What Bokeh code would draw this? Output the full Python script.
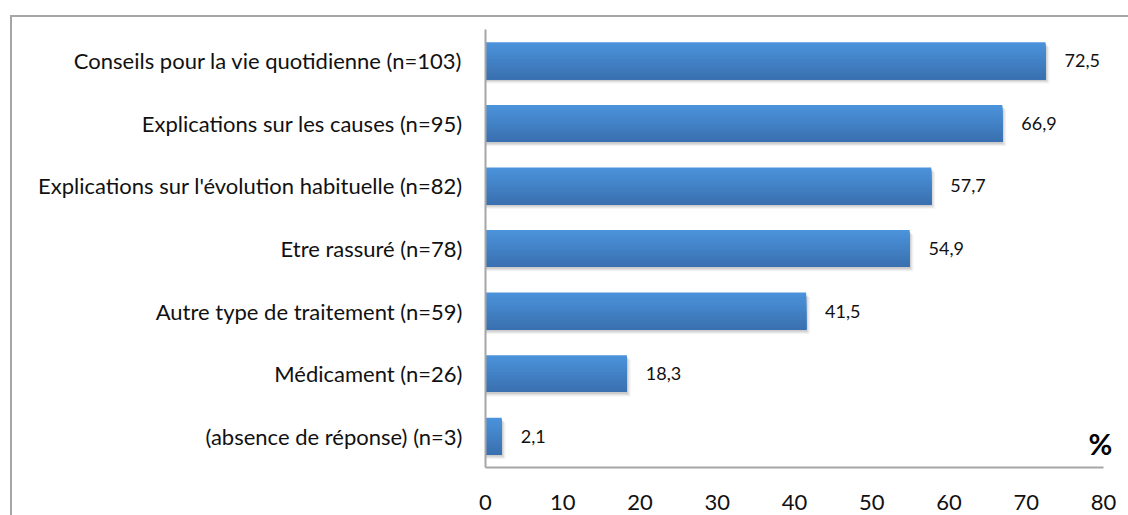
import numpy as np
from bokeh.plotting import figure
from bokeh.models import ColumnDataSource, Range1d, FixedTicker, Label
from bokeh.core.properties import value
from bokeh.embed import file_html
from bokeh.resources import INLINE

# Survey answers, listed top to bottom, with the share of respondents (%)
categories = [
    "Conseils pour la vie quotidienne (n=103)",
    "Explications sur les causes (n=95)",
    "Explications sur l'évolution habituelle (n=82)",
    "Etre rassuré (n=78)",
    "Autre type de traitement (n=59)",
    "Médicament (n=26)",
    "(absence de réponse) (n=3)",
]
percentages = [72.5, 66.9, 57.7, 54.9, 41.5, 18.3, 2.1]
x_ticks = [0, 10, 20, 30, 40, 50, 60, 70, 80]

FONT = "Lato"
BAR_H = 0.59
TOP_COLOR = np.array([0x4B, 0x93, 0xDB])
BOTTOM_COLOR = np.array([0x3A, 0x70, 0xB0])
N_STRIPS = 24

n = len(categories)
ypos = [n - 1 - i for i in range(n)]

# the frame runs a little past 80 so the "%" marker has room; the axis
# line itself stops at 80 through its bounds
p = figure(
    width=1116, height=498,
    frame_width=629, frame_height=438,
    min_border_left=473, min_border_right=14,
    min_border_top=12, min_border_bottom=48,
    x_range=Range1d(0, 81.42), y_range=Range1d(-0.5, n - 0.5),
    output_backend="svg", toolbar_location=None,
)
p.margin = (15, 0, 0, 10)
p.styles = {"border-top": "2px solid #a6a6a6", "border-left": "2px solid #a6a6a6"}
p.outline_line_color = None
p.grid.visible = False
p.background_fill_color = "white"
p.border_fill_color = "white"

# soft drop shadow under each bar
for dx, dy, a in [(0.5, 0.07, 0.05), (0.3, 0.05, 0.07), (0.15, 0.03, 0.09)]:
    p.hbar(y=[y - dy for y in ypos], left=0, right=[v + dx for v in percentages],
           height=BAR_H, fill_color="#000000", fill_alpha=a, line_color=None)

# vertical gradient: each layer runs from its own top edge down to the bar's
# bottom, so successive layers overlap and no seams show
bar_bottom = [y - BAR_H / 2 for y in ypos]
for s in range(N_STRIPS):
    t = s / (N_STRIPS - 1)
    c = (TOP_COLOR * (1 - t) + BOTTOM_COLOR * t).round().astype(int)
    color = "#%02x%02x%02x" % tuple(c)
    top_off = BAR_H / 2 - BAR_H * s / N_STRIPS
    p.quad(left=0, right=percentages, bottom=bar_bottom,
           top=[y + top_off for y in ypos], fill_color=color, line_color=None)

# value labels
labels_src = ColumnDataSource(dict(
    x=percentages, y=ypos,
    txt=[f"{v:.1f}".replace(".", ",") for v in percentages],
))
p.text(x="x", y="y", text="txt", source=labels_src, x_offset=19,
       text_baseline="middle", text_align="left",
       text_font=value(FONT), text_font_size="18px", text_color="#111111")

# axes
xa = p.xaxis[0]
xa.ticker = FixedTicker(ticks=x_ticks)
xa.bounds = (x_ticks[0], x_ticks[-1])
xa.major_tick_line_color = None
xa.minor_tick_line_color = None
xa.axis_line_color = "#a6a6a6"
xa.axis_line_width = 2
xa.major_label_text_font = FONT
xa.major_label_text_font_size = "22px"
xa.major_label_text_color = "#111111"
xa.major_label_standoff = 21

ya = p.yaxis[0]
ya.ticker = FixedTicker(ticks=ypos)
ya.major_label_overrides = {y: c for y, c in zip(ypos, categories)}
ya.major_tick_line_color = None
ya.minor_tick_line_color = None
ya.axis_line_color = "#a6a6a6"
ya.axis_line_width = 2
ya.major_label_text_font = FONT
ya.major_label_text_font_size = "22px"
ya.major_label_text_color = "#111111"
ya.major_label_standoff = 17

p.add_layout(Label(x=79.6, y=-0.12, text="%", text_align="center",
                   text_baseline="middle", text_font=FONT,
                   text_font_size="29px", text_font_style="bold",
                   text_color="#000000"))

open("out.html", "w").write(file_html(p, INLINE))
